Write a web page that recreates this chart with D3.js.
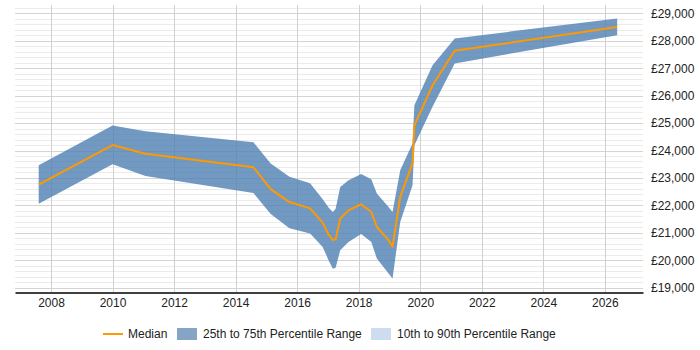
<!DOCTYPE html>
<html lang="en">
<head>
  <meta charset="UTF-8">
  <title>Salary Percentile Chart</title>
  <script src="https://d3js.org/d3.v7.min.js"></script>
  <style>
    body {
      margin: 0;
      font-family: "Liberation Sans", Arial, sans-serif;
      background: white;
    }
    .tick text {
      font-size: 12px;
      fill: #222;
    }
  </style>
</head>
<body>

<svg width="700" height="350"></svg>

<script>
  // time points (decimal years)
  const years = [2007.6, 2010.0, 2011.07, 2014.58, 2015.14, 2015.75, 2016.42, 2016.83, 2017.02, 2017.16,
    2017.25, 2017.40, 2017.67, 2018.08, 2018.41, 2018.59, 2018.97, 2019.1, 2019.35, 2019.75,
    2019.81, 2020.40, 2021.12, 2026.40];
  const p25 = [22060, 23500, 23070, 22450, 21680, 21160, 20970, 20480, 20000, 19690,
    19720, 20360, 20660, 20950, 20660, 20060, 19510, 19330, 21390, 22730,
    24190, 25600, 27180, 28210];
  const median = [22760, 24200, 23880, 23390, 22590, 22120, 21890, 21370, 20930, 20730,
    20760, 21520, 21820, 22040, 21760, 21210, 20730, 20490, 22310, 23530,
    24920, 26380, 27640, 28510];
  const p75 = [23460, 24910, 24700, 24300, 23530, 23040, 22810, 22220, 21920, 21760,
    21880, 22670, 22920, 23140, 22950, 22430, 21940, 21760, 23280, 24260,
    25650, 27110, 28090, 28820];
  const xTicks = [2008, 2010, 2012, 2014, 2016, 2018, 2020, 2022, 2024, 2026];
  const yTicks = [19000, 20000, 21000, 22000, 23000, 24000, 25000, 26000, 27000, 28000, 29000];
  const legendItems = ["Median", "25th to 75th Percentile Range", "10th to 90th Percentile Range"];

  const data = years.map((yr, i) => ({ yr, lo: p25[i], mid: median[i], hi: p75[i] }));

  const svg = d3.select("svg");
  const plotLeft = 15, plotRight = 643, plotTop = 5, plotBottom = 292.5;

  const x = d3.scaleLinear().domain([2006.83, 2027.24]).range([plotLeft, plotRight]);
  const y = d3.scaleLinear().domain([18820, 29310]).range([plotBottom, plotTop]);

  // minor horizontal grid
  const minor = d3.range(19000, 29201, 200).filter(v => v % 1000 !== 0);
  svg.append("g").selectAll("line")
    .data(minor)
    .enter().append("line")
    .attr("x1", plotLeft).attr("x2", plotRight)
    .attr("y1", d => Math.round(y(d)) + 0.5).attr("y2", d => Math.round(y(d)) + 0.5)
    .attr("stroke", "#ebebeb");

  // major horizontal grid
  svg.append("g").selectAll("line")
    .data(yTicks)
    .enter().append("line")
    .attr("x1", plotLeft).attr("x2", plotRight)
    .attr("y1", d => Math.round(y(d)) + 0.5).attr("y2", d => Math.round(y(d)) + 0.5)
    .attr("stroke", "#d4d4d4");

  // vertical grid
  svg.append("g").selectAll("line")
    .data(xTicks)
    .enter().append("line")
    .attr("x1", d => Math.round(x(d)) + 0.5).attr("x2", d => Math.round(x(d)) + 0.5)
    .attr("y1", plotTop).attr("y2", plotBottom)
    .attr("stroke", "#d0d0d0");

  // 25-75 band
  const area = d3.area()
    .x(d => x(d.yr))
    .y0(d => y(d.lo))
    .y1(d => y(d.hi));
  svg.append("path")
    .datum(data)
    .attr("d", area)
    .attr("fill", "#4f7fb2")
    .attr("fill-opacity", 0.8);

  // median line
  const line = d3.line()
    .x(d => x(d.yr))
    .y(d => y(d.mid));
  svg.append("path")
    .datum(data)
    .attr("d", line)
    .attr("fill", "none")
    .attr("stroke", "#ff9900")
    .attr("stroke-width", 2)
    .attr("stroke-linejoin", "round");

  // x axis
  const xAxis = d3.axisBottom(x).tickValues(xTicks).tickFormat(d3.format("d")).tickSize(0).tickPadding(6);
  const gx = svg.append("g")
    .attr("transform", `translate(0,${plotBottom})`)
    .call(xAxis);
  gx.select(".domain").attr("stroke", "#000").attr("stroke-width", 1.5);

  // y axis on right
  const yAxis = d3.axisRight(y).tickValues(yTicks)
    .tickFormat(d => "£" + d3.format(",")(d)).tickSize(0).tickPadding(8);
  const gy = svg.append("g")
    .attr("transform", `translate(${plotRight},0)`)
    .call(yAxis);
  gy.select(".domain").remove();

  // legend
  const lg = svg.append("g").attr("font-size", 12).attr("fill", "#222");
  const ly = 334;
  lg.append("line")
    .attr("x1", 103).attr("x2", 123).attr("y1", ly).attr("y2", ly)
    .attr("stroke", "#ff9900").attr("stroke-width", 2);
  lg.append("text").attr("x", 128).attr("y", ly + 4).text(legendItems[0]);
  lg.append("rect")
    .attr("x", 177).attr("y", ly - 6).attr("width", 20).attr("height", 12)
    .attr("fill", "#86a4c6");
  lg.append("text").attr("x", 203).attr("y", ly + 4).text(legendItems[1]);
  lg.append("rect")
    .attr("x", 371).attr("y", ly - 6).attr("width", 20).attr("height", 12)
    .attr("fill", "#cddcee");
  lg.append("text").attr("x", 397).attr("y", ly + 4).text(legendItems[2]);
</script>

</body>
</html>
